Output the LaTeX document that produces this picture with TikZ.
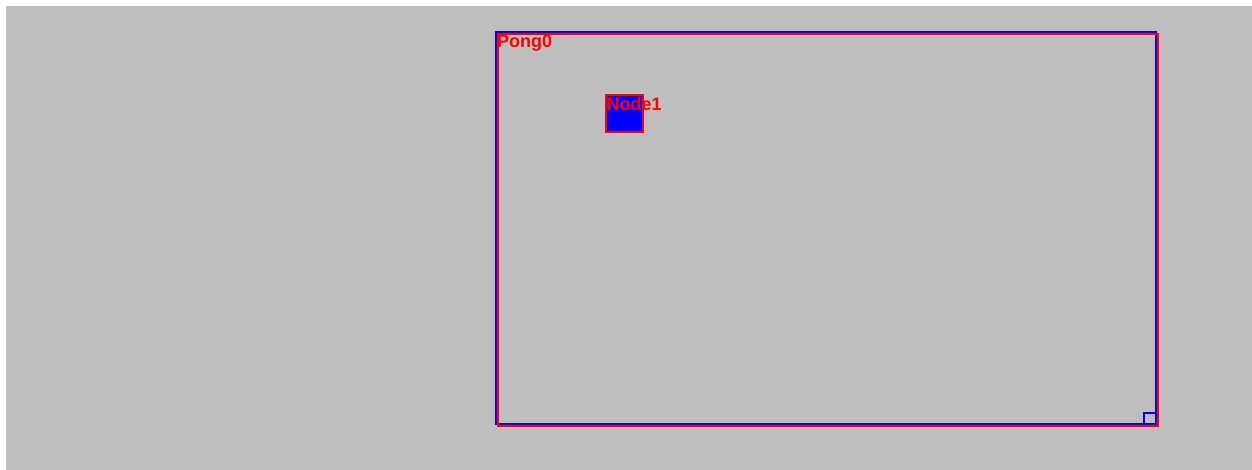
\documentclass[tikz,border=0pt]{standalone}
\usepackage{fontspec}
\setmainfont{Liberation Sans}
\usetikzlibrary{positioning}
\definecolor{canvasGray}{HTML}{BEBEBE}

\begin{document}
\begin{tikzpicture}[x=1pt,y=-1pt,every node/.style={inner sep=0pt,outer sep=0pt}]
  \useasboundingbox (0,0) rectangle (1252,470);
  \fill[canvasGray] (6,6) rectangle (1252,470);
  \node[draw=blue,line width=2pt,minimum width=660pt,minimum height=392pt,anchor=north west] (pong) at (496,32) {};
  \node[draw=red,line width=2pt,minimum width=660pt,minimum height=392pt,anchor=north west] (pongRed) at (498,34) {};
  \node[draw=blue,line width=1.5pt,minimum width=12pt,minimum height=11pt,anchor=south east] (corner) at (pong.south east) {};
  \node[anchor=north west,text=red,font=\bfseries\fontsize{18}{18}\selectfont] (pongLabel) at (497,35) {Pong0};
  \node[draw=red,fill=blue,line width=2pt,minimum width=37pt,minimum height=37pt,anchor=north west] (node1) at (606,95) {};
  \node[anchor=north west,text=red,font=\bfseries\fontsize{18}{18}\selectfont] (node1Label) at (606.5,97) {Node1};
\end{tikzpicture}
\end{document}
